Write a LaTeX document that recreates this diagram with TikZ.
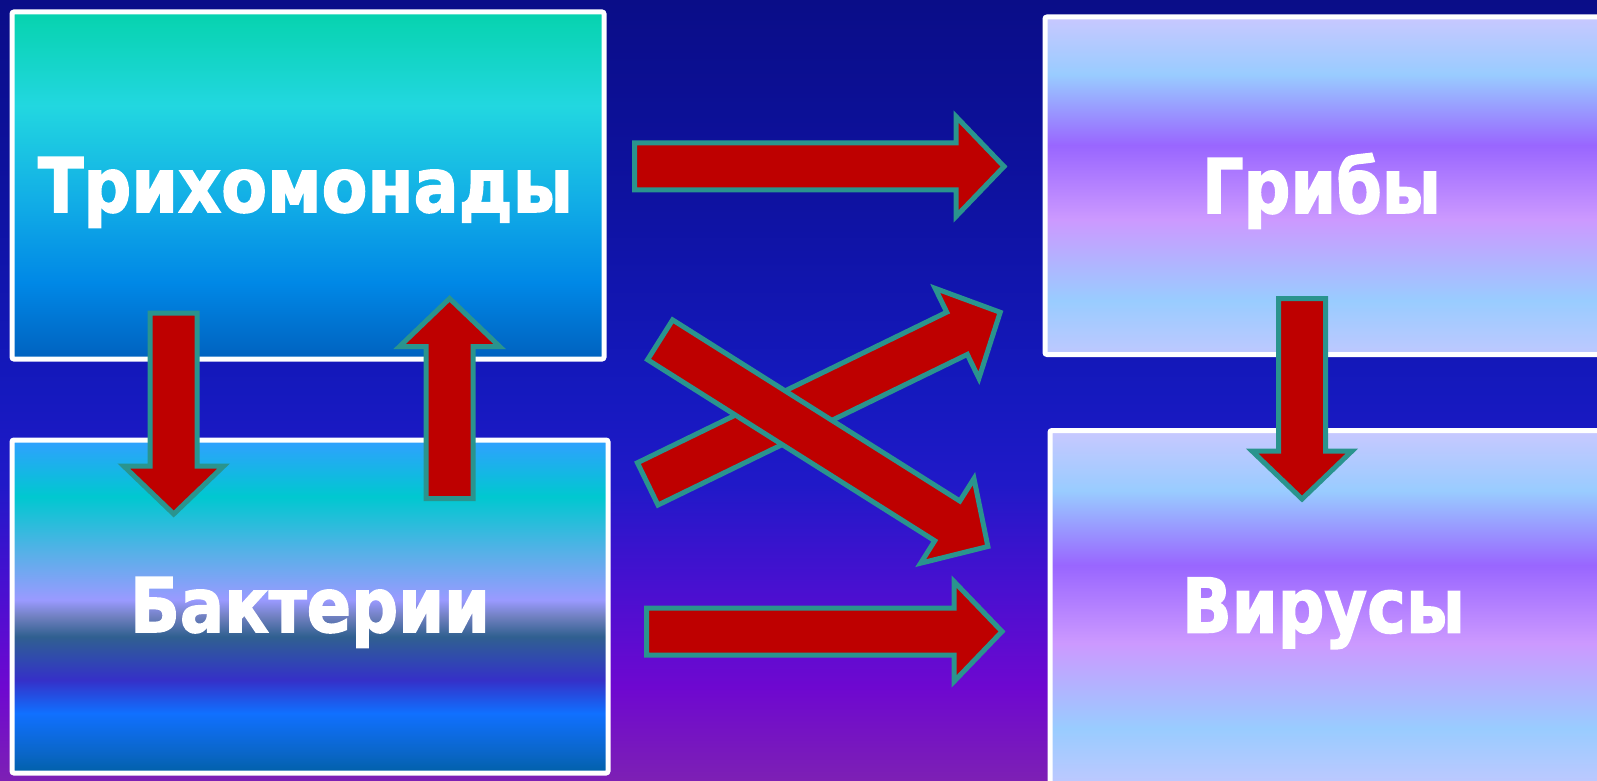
\documentclass[tikz,border=0pt]{standalone}
\usepackage{fontspec}
\usetikzlibrary{calc}
\newfontfamily\lblfont{DejaVu Sans}[BoldFeatures={FakeBold=2}]

% arrow colours
\definecolor{arrowred}{HTML}{BE0000}
\definecolor{arrowteal}{HTML}{2A948E}

% backdrop colours, top to bottom
\definecolor{bgA}{HTML}{0A0D88}
\definecolor{bgB}{HTML}{0E12A0}
\definecolor{bgC}{HTML}{1519BE}
\definecolor{bgD}{HTML}{2019C8}
\definecolor{bgE}{HTML}{4810D0}
\definecolor{bgF}{HTML}{6E08D0}
\definecolor{bgG}{HTML}{7D20B4}

% first panel, top to bottom
\definecolor{pa1}{HTML}{06D3AE}
\definecolor{pa2}{HTML}{22D7E0}
\definecolor{pa3}{HTML}{12AEE6}
\definecolor{pa4}{HTML}{0088E6}
\definecolor{pa5}{HTML}{0062BF}

% second panel, top to bottom
\definecolor{pb1}{HTML}{30A0FF}
\definecolor{pb2}{HTML}{00C8D0}
\definecolor{pb3}{HTML}{58B0E8}
\definecolor{pb4}{HTML}{9A9AFF}
\definecolor{pb5}{HTML}{7080C0}
\definecolor{pb6}{HTML}{306090}
\definecolor{pb7}{HTML}{3048B0}
\definecolor{pb8}{HTML}{3530C8}
\definecolor{pb9}{HTML}{1070FF}
\definecolor{pb10}{HTML}{0A66C8}
\definecolor{pb11}{HTML}{0060A8}

% lilac panels, top to bottom
\definecolor{pc1}{HTML}{C8C8FF}
\definecolor{pc2}{HTML}{99CCFF}
\definecolor{pc3}{HTML}{9966FF}
\definecolor{pc4}{HTML}{CC99FF}
\definecolor{pc5}{HTML}{99CCFF}
\definecolor{pc6}{HTML}{BEC8FF}

% the middle 25bp..75bp of each shading spans the filled shape
\pgfdeclareverticalshading{bgshade}{100bp}{color(0bp)=(bgG); color(25bp)=(bgG);
  color(31bp)=(bgF); color(37.5bp)=(bgE); color(44bp)=(bgD); color(50bp)=(bgC);
  color(62.5bp)=(bgB); color(75bp)=(bgA); color(100bp)=(bgA)}
\pgfdeclareverticalshading{panelA}{100bp}{color(0bp)=(pa5); color(25bp)=(pa5);
  color(36bp)=(pa4); color(48bp)=(pa3); color(61.5bp)=(pa2); color(75bp)=(pa1);
  color(100bp)=(pa1)}
\pgfdeclareverticalshading{panelB}{100bp}{color(0bp)=(pb11); color(25bp)=(pb11);
  color(28bp)=(pb10); color(34bp)=(pb9); color(39bp)=(pb8); color(42bp)=(pb7);
  color(45.5bp)=(pb6); color(48.5bp)=(pb5); color(51bp)=(pb4); color(58bp)=(pb3);
  color(66.5bp)=(pb2); color(75bp)=(pb1); color(100bp)=(pb1)}
\pgfdeclareverticalshading{panelC}{100bp}{color(0bp)=(pc6); color(25bp)=(pc6);
  color(33bp)=(pc5); color(45bp)=(pc4); color(56bp)=(pc3); color(66.5bp)=(pc2);
  color(75bp)=(pc1); color(100bp)=(pc1)}

% label text squeezed horizontally to a given width
\newsavebox\lblbox
\newlength\lblwd
\newcommand\fitlabel[2]{%
  \sbox\lblbox{\lblfont\bfseries\fontsize{37.7pt}{40pt}\selectfont #2}%
  \setlength\lblwd{\wd\lblbox}%
  \pgfmathsetmacro\lblsx{#1/\lblwd}%
  \scalebox{\lblsx}[1]{\usebox\lblbox}}

% block arrow from tail #1 to tip #2
\newcommand\blockarrow[2]{%
  \coordinate (ba-h) at ($(#2)!24pt!(#1)$);
  \draw[blockarrow] ($(#1)!11.75pt!90:(#2)$) -- ($(ba-h)!11.75pt!-90:(#1)$)
    -- ($(ba-h)!25pt!-90:(#1)$) -- (#2) -- ($(ba-h)!25pt!90:(#1)$)
    -- ($(ba-h)!11.75pt!90:(#1)$) -- ($(#1)!11.75pt!-90:(#2)$) -- cycle;}

\tikzset{
  panel/.style={draw=white, line width=2.5pt, rounded corners=1pt, shade,
    inner sep=0pt, outer sep=0pt},
  lbl/.style={text=white, inner sep=0pt, anchor=base},
  blockarrow/.style={fill=arrowred, draw=arrowteal, line width=2.5pt,
    line join=miter}
}

\begin{document}
\begin{tikzpicture}[x=0.5pt, y=-0.5pt]
  \clip (0,0) rectangle (1597,781);
  \shade[shading=bgshade] (0,0) rectangle (1597,781);

  % panels
  \node[panel, shading=panelA, minimum width=296pt, minimum height=173.5pt]
    (trich) at (308,185.5) {};
  \node[panel, shading=panelB, minimum width=298pt, minimum height=166.5pt]
    (bakt) at (310,606.5) {};
  \node[panel, shading=panelC, minimum width=278pt, minimum height=168.75pt]
    (grib) at (1323,185.75) {};
  \node[panel, shading=panelC, minimum width=275.5pt, minimum height=177.25pt]
    (vir) at (1325.5,607.75) {};

  % labels
  \node[lbl] (trich-t) at (305.5,212) {\fitlabel{267.5pt}{Трихомонады}};
  \node[lbl] (bakt-t) at (310,632) {\fitlabel{180pt}{Бактерии}};
  \node[lbl] (grib-t) at (1321.5,213) {\fitlabel{119.5pt}{Грибы}};
  \node[lbl] (vir-t) at (1323.5,632.5) {\fitlabel{141.5pt}{Вирусы}};

  % arrow ends
  \coordinate (tb-s) at (173.7,313);   \coordinate (tb-e) at (173.7,514);
  \coordinate (bt-s) at (449.6,498.5); \coordinate (bt-e) at (449.6,298.5);
  \coordinate (tg-s) at (634.5,166.5); \coordinate (tg-e) at (1004,166.5);
  \coordinate (bg-s) at (647.7,483.9); \coordinate (bg-e) at (1000.2,312.3);
  \coordinate (tv-s) at (660.1,339.8); \coordinate (tv-e) at (987.9,546.5);
  \coordinate (bv-s) at (646.5,631.5); \coordinate (bv-e) at (1002,631.5);
  \coordinate (gv-s) at (1302,298.5);  \coordinate (gv-e) at (1302,499);

  % arrows
  \blockarrow{tb-s}{tb-e}
  \blockarrow{bt-s}{bt-e}
  \blockarrow{tg-s}{tg-e}
  \blockarrow{bg-s}{bg-e}
  \blockarrow{tv-s}{tv-e}
  \blockarrow{bv-s}{bv-e}
  \blockarrow{gv-s}{gv-e}
\end{tikzpicture}
\end{document}
